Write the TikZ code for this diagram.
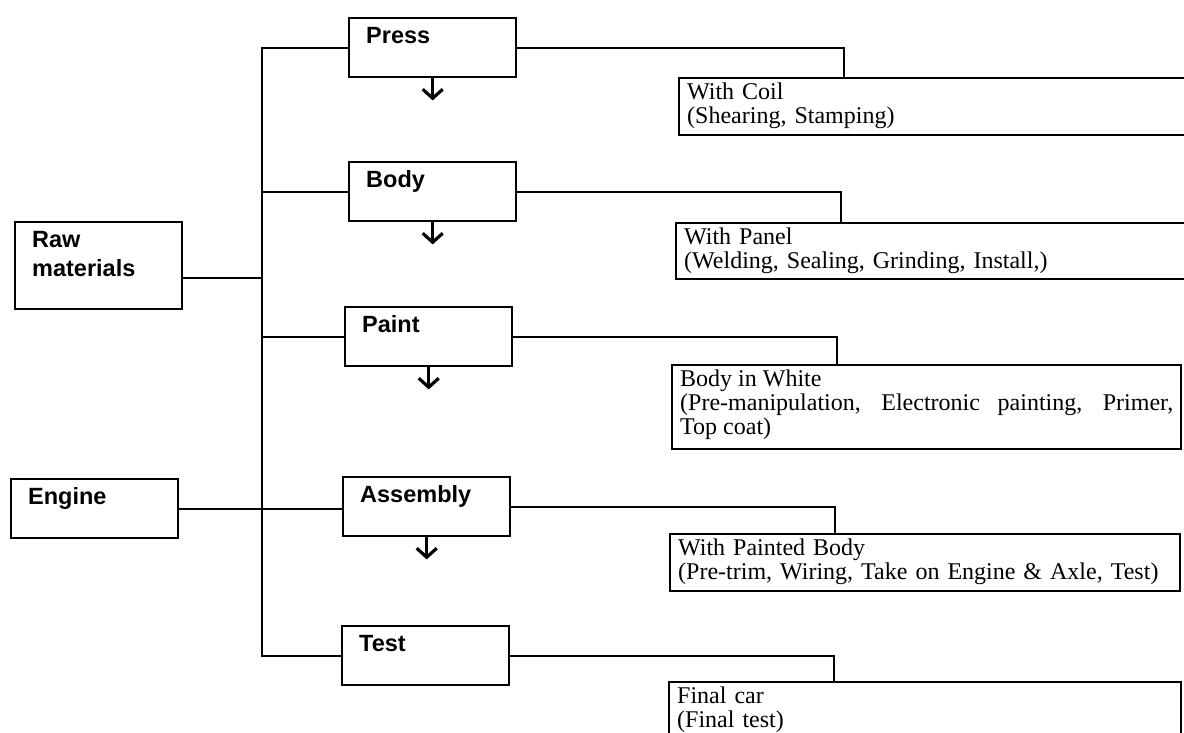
\documentclass[tikz,border=0pt]{standalone}
\usepackage{fontspec}
\setmainfont{Liberation Serif}
\setsansfont{Liberation Sans}
\usetikzlibrary{arrows.meta}
\setlength{\parindent}{0pt}

\begin{document}
\begin{tikzpicture}[x=1pt, y=-1pt,
    lbox/.style={draw, line width=2.4pt, anchor=north west, align=left,
        font=\sffamily\bfseries\fontsize{23.5}{29}\selectfont,
        inner xsep=17pt, inner ysep=8pt, text width=133pt,
        text height=17pt, text depth=26pt},
    rbox/.style={draw, line width=2.4pt, anchor=north west, align=left,
        font={\hyphenpenalty=10000 \exhyphenpenalty=10000 \rmfamily\fontsize{24}{24}\selectfont},
        inner xsep=8pt, inner ysep=4pt, text height=17pt, text depth=32pt},
    link/.style={line width=2pt},
    down/.style={line width=3pt, -{Straight Barb[length=9pt, width=20pt, line width=3.2pt]}}]
    \useasboundingbox (0,0) rectangle (1184,733);
    \clip (0,0) rectangle (1184,733);

    % Inputs
    \node[lbox, text depth=54pt] (raw) at (14,221) {Raw\\materials};
    \node[lbox] (engine) at (10,478) {Engine};

    % Shops
    \node[lbox] (press) at (348,17) {Press};
    \node[lbox] (body) at (348,161) {Body};
    \node[lbox] (paint) at (344,306) {Paint};
    \node[lbox] (assembly) at (342,476) {Assembly};
    \node[lbox] (test) at (341,625) {Test};

    % Results
    \node[rbox, text width=514pt] (coil) at (678,77) {With Coil\\(Shearing, Stamping)};
    \node[rbox, text width=514pt, text depth=31pt] (panel) at (675,222) {With Panel\\(Welding, Sealing, Grinding, Install,)};
    \node[rbox, text width=493pt, text depth=59pt, align=justify] (biw) at (671,364) {Body in White\par (Pre-manipulation, Electronic painting, Primer,\linebreak Top coat)};
    \node[rbox, text width=494pt] (wpb) at (669,533) {With Painted Body\\\mbox{(Pre-trim, Wiring, Take on Engine \& Axle, Test)}};
    \node[rbox, text width=496pt, text depth=80pt] (final) at (668,681) {Final car\\(Final test)};

    % Trunk
    \coordinate (trunk) at (262,0);
    \draw[link] (press.west) -- (press.west -| trunk) -- (test.west -| trunk) -- (test.west);
    \draw[link] (body.west) -- (body.west -| trunk);
    \draw[link] (paint.west) -- (paint.west -| trunk);
    \draw[link] ([yshift=-12pt]raw.east) -- ([yshift=-12pt]raw.east -| trunk);
    \draw[link] (engine.east) -- (engine.east -| assembly.west);

    % To results
    \draw[link] (press.east) -| ([xshift=166pt]coil.north west);
    \draw[link] (body.east) -| ([xshift=166pt]panel.north west);
    \draw[link] (paint.east) -| ([xshift=166pt]biw.north west);
    \draw[link] (assembly.east) -| ([xshift=166pt]wpb.north west);
    \draw[link] (test.east) -| ([xshift=166pt]final.north west);

    % Flow
    \draw[down] (press.south) -- ++(0,22);
    \draw[down] (body.south) -- ++(0,22);
    \draw[down] (paint.south) -- ++(0,22);
    \draw[down] (assembly.south) -- ++(0,22);
\end{tikzpicture}
\end{document}
